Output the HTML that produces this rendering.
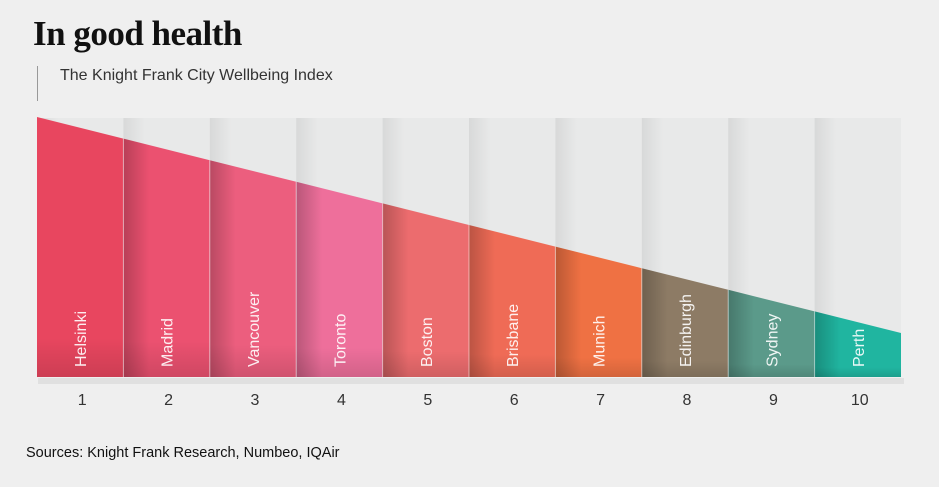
<!DOCTYPE html><html><head><style>
body{margin:0;width:939px;height:482px;background:#efefef;overflow:hidden;font-family:"Liberation Sans",sans-serif}
</style></head><body>
<svg width="939" height="482" viewBox="0 0 939 482" xmlns="http://www.w3.org/2000/svg">
<defs>
<linearGradient id="sh" x1="0" x2="1"><stop offset="0" stop-color="#000" stop-opacity="0.22"/><stop offset="0.3" stop-color="#000" stop-opacity="0"/></linearGradient>
<linearGradient id="psh" x1="0" x2="1"><stop offset="0" stop-color="#000" stop-opacity="0.07"/><stop offset="0.25" stop-color="#000" stop-opacity="0"/></linearGradient>
<linearGradient id="bot" x1="0" y1="0" x2="0" y2="1"><stop offset="0.85" stop-color="#000" stop-opacity="0"/><stop offset="1" stop-color="#000" stop-opacity="0.12"/></linearGradient>
</defs>
<rect width="939" height="482" fill="#efefef"/>
<text x="33" y="45" font-family="Liberation Serif,serif" font-weight="bold" font-size="35" fill="#111" letter-spacing="-0.5">In good health</text>
<line x1="37.5" y1="66" x2="37.5" y2="101" stroke="#999" stroke-width="1"/>
<text x="60" y="80" font-size="16" fill="#333">The Knight Frank City Wellbeing Index</text>
<rect x="38" y="378" width="866" height="6" fill="#000" opacity="0.06"/>
<g id="bars"></g>
<text x="26" y="457" font-size="14.5" fill="#111">Sources: Knight Frank Research, Numbeo, IQAir</text>
</svg>
<script>
const names=["Helsinki","Madrid","Vancouver","Toronto","Boston","Brisbane","Munich","Edinburgh","Sydney","Perth"];
const cols=["#e8465f","#eb5170","#ec5e7e","#ee6f9b","#ec6c6e","#ef6b56","#ef7143","#8d7b65","#5b9a8a","#20b5a0"];
const x0=37,x1=901,yt0=117,yt1=333,yb=377,w=(x1-x0)/10;
const yAt=x=>yt0+(yt1-yt0)*(x-x0)/(x1-x0);
let s="";
for(let i=0;i<10;i++){const a=x0+i*w,b=a+w;
s+=`<rect x="${a}" y="118" width="${w}" height="${yb-118}" fill="#e8e9e9"/><rect x="${a}" y="118" width="${w}" height="${yb-118}" fill="url(#psh)"/>`;
const p=`${a},${yAt(a)} ${b},${yAt(b)} ${b},${yb} ${a},${yb}`;
s+=`<polygon points="${p}" fill="${cols[i]}"/>`;
if(i>0)s+=`<polygon points="${p}" fill="url(#sh)"/>`;
s+=`<polygon points="${p}" fill="url(#bot)"/>`;
if(i>0)s+=`<line x1="${a}" y1="${yAt(a)}" x2="${a}" y2="${yb}" stroke="#fff" stroke-opacity="0.5" stroke-width="1"/>`;
const cx=a+w/2+6;
s+=`<text transform="translate(${cx},367) rotate(-90)" font-size="16" fill="#fff" fill-opacity="0.9">${names[i]}</text>`;
s+=`<text x="${a+w/2+2}" y="405" text-anchor="middle" font-size="16" fill="#333">${i+1}</text>`;}
document.getElementById("bars").innerHTML=s;
</script>
</body></html>
